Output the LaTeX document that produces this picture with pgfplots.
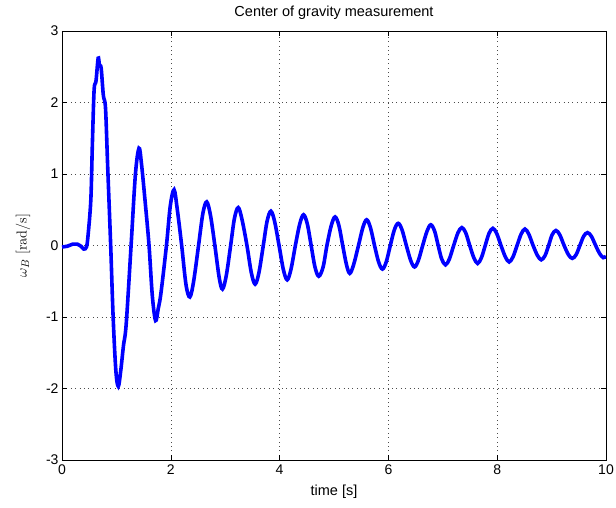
\documentclass[border=0pt]{standalone}
\usepackage{pgfplots}
\pgfplotsset{compat=1.18}
\usepackage[no-math]{fontspec}
\setmainfont{Liberation Sans}
\begin{document}
\begin{tikzpicture}
\begin{axis}[
  scale only axis,
  width=544pt, height=429pt,
  xmin=0, xmax=10, ymin=-3, ymax=3,
  xtick={0,2,4,6,8,10}, ytick={-3,-2,-1,0,1,2,3},
  tick align=inside,
  major tick length=5pt,
  tick style={black, line width=0.5pt},
  axis line style={black, line width=0.6pt},
  grid=major,
  major grid style={black!70, line width=0.5pt, dash pattern=on 0.8pt off 3.6pt},
  /pgf/number format/assume math mode=true,
  tick label style={font=\fontsize{14}{16}\selectfont},
  xticklabel style={yshift=-1pt},
  title={Center of gravity measurement},
  title style={font=\fontsize{14.5}{16}\selectfont, yshift=2pt},
  xlabel={time [s]},
  xlabel style={font=\fontsize{14.5}{16}\selectfont, yshift=-4pt},
  ylabel={$\omega_B\ \mathrm{[rad/s]}$},
  ylabel style={font=\fontsize{15}{17}\selectfont, yshift=9pt},
]
\addplot[color=blue, line width=3.6pt, smooth, tension=0.55] coordinates {
(0,-0.02) (0.1,-0.01) (0.2,0.02) (0.28,0.02) (0.35,-0.01) (0.4,-0.05) (0.45,-0.02)
(0.48,0.15) (0.53,0.64) (0.557,1.38) (0.59,2.17) (0.625,2.3) (0.665,2.62) (0.69,2.52)
(0.72,2.48) (0.76,2.1) (0.80,1.92) (0.84,1.1) (0.895,0) (0.94,-1.0) (0.99,-1.75)
(1.035,-1.97) (1.08,-1.75) (1.13,-1.4) (1.18,-1.1) (1.27,0) (1.35,1.0) (1.415,1.36)
(1.46,1.15) (1.53,0.6) (1.60,0) (1.66,-0.7) (1.72,-1.05) (1.77,-0.88) (1.82,-0.66)
(1.92,0) (1.99,0.55) (2.06,0.78) (2.12,0.5) (2.20,0) (2.28,-0.55) (2.35,-0.72)
(2.42,-0.5) (2.51,0) (2.59,0.45) (2.66,0.61) (2.73,0.42) (2.81,0) (2.89,-0.45)
(2.95,-0.61) (3.02,-0.42) (3.10,0) (3.17,0.38) (3.24,0.53) (3.31,0.36) (3.40,0)
(3.48,-0.38) (3.55,-0.54) (3.62,-0.38) (3.70,0) (3.77,0.34) (3.84,0.48) (3.91,0.33)
(3.99,0) (4.07,-0.34) (4.14,-0.48) (4.21,-0.33) (4.29,0) (4.37,0.30) (4.44,0.43)
(4.51,0.30) (4.58,0) (4.65,-0.30) (4.72,-0.43) (4.80,-0.30) (4.87,0) (4.95,0.28)
(5.02,0.40) (5.09,0.28) (5.16,0) (5.23,-0.27) (5.29,-0.39) (5.36,-0.27) (5.45,0)
(5.53,0.25) (5.60,0.36) (5.67,0.25) (5.745,0) (5.82,-0.23) (5.89,-0.33) (5.96,-0.23)
(6.035,0) (6.11,0.22) (6.18,0.31) (6.25,0.22) (6.33,0) (6.41,-0.21) (6.48,-0.30)
(6.55,-0.21) (6.63,0) (6.71,0.20) (6.78,0.29) (6.85,0.20) (6.915,0) (6.98,-0.19)
(7.05,-0.27) (7.12,-0.19) (7.20,0) (7.28,0.18) (7.35,0.25) (7.42,0.18) (7.495,0)
(7.57,-0.17) (7.64,-0.25) (7.71,-0.17) (7.78,0) (7.85,0.17) (7.92,0.24) (7.99,0.17)
(8.07,0) (8.15,-0.16) (8.22,-0.23) (8.29,-0.16) (8.365,0) (8.44,0.16) (8.51,0.23)
(8.58,0.16) (8.66,0) (8.74,-0.14) (8.81,-0.20) (8.88,-0.14) (8.945,0) (9.01,0.15)
(9.08,0.21) (9.15,0.15) (9.23,0) (9.31,-0.13) (9.38,-0.18) (9.45,-0.13) (9.52,0)
(9.59,0.13) (9.66,0.18) (9.73,0.13) (9.81,0) (9.88,-0.11) (9.95,-0.17) (10.0,-0.15)
};
\end{axis}
\pgfresetboundingbox
\path (-62pt,-48pt) rectangle (554pt,460pt);
\end{tikzpicture}
\end{document}
